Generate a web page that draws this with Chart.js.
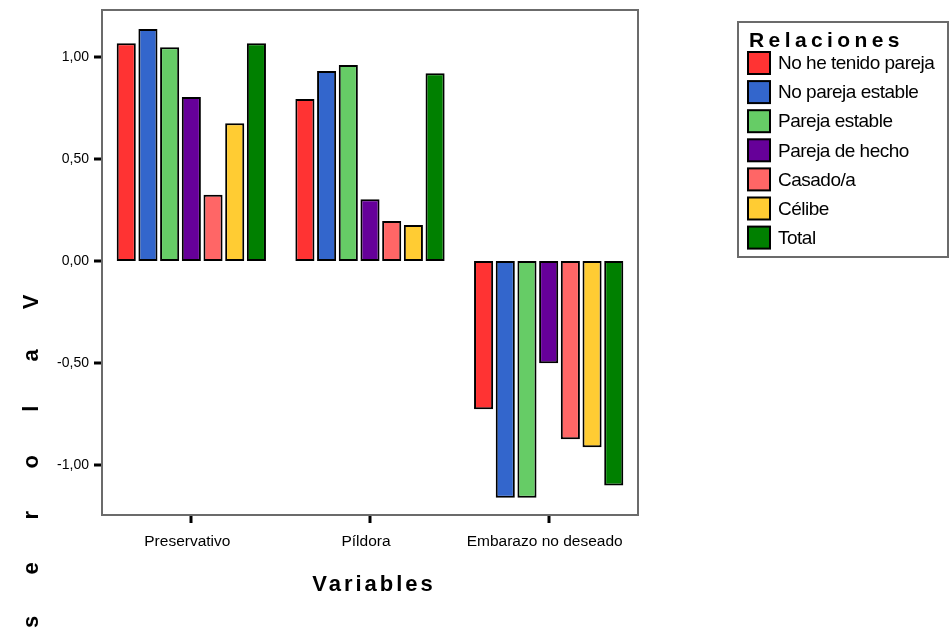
<!DOCTYPE html>
<html>
<head>
<meta charset="utf-8">
<script src="https://cdn.jsdelivr.net/npm/chart.js@4/dist/chart.umd.min.js"></script>
<style>
  body { margin: 0; background: #fff; }
  canvas { display: block; }
</style>
</head>
<body>
<canvas id="grafico" width="950" height="628"></canvas>
<script>
// Datos
const categorias = ["Preservativo", "Píldora", "Embarazo no deseado"];
const relaciones = ["No he tenido pareja", "No pareja estable", "Pareja estable", "Pareja de hecho", "Casado/a", "Célibe", "Total"];
const colores = ["#FF3333", "#3366CC", "#66CC66", "#660099", "#FF6666", "#FFCC33", "#008000"];

const noHeTenidoPareja = [1.067, 0.794, -0.727];
const noParejaEstable = [1.137, 0.931, -1.160];
const parejaEstable = [1.047, 0.961, -1.160];
const parejaDeHecho = [0.804, 0.302, -0.501];
const casado = [0.325, 0.196, -0.874];
const celibe = [0.675, 0.176, -0.913];
const total = [1.067, 0.920, -1.101];

const series = [noHeTenidoPareja, noParejaEstable, parejaEstable, parejaDeHecho, casado, celibe, total];
const yTicks = [-1, -0.5, 0, 0.5, 1];

const fuente = "'Liberation Sans', Arial, sans-serif";
Chart.defaults.font.family = fuente;
Chart.defaults.color = "#000";

// Marco, leyenda y titulos de ejes
const decoracion = {
    id: "decoracion",
    afterDatasetsDraw(chart) {
        const ctx = chart.ctx;
        const a = chart.chartArea;
        ctx.save();
        ctx.strokeStyle = "#6b6b6b";
        ctx.lineWidth = 2;
        ctx.strokeRect(a.left, a.top, a.right - a.left, a.bottom - a.top);
        ctx.restore();
    },
    afterDraw(chart) {
        const ctx = chart.ctx;
        ctx.save();

        // Leyenda
        ctx.strokeStyle = "#6b6b6b";
        ctx.lineWidth = 2;
        ctx.strokeRect(738, 22, 210, 235);
        ctx.fillStyle = "#000";
        ctx.font = "bold 21px " + fuente;
        ctx.letterSpacing = "4.4px";
        ctx.textBaseline = "alphabetic";
        ctx.fillText("Relaciones", 749, 47);

        ctx.font = "19px " + fuente;
        ctx.letterSpacing = "-0.5px";
        ctx.textBaseline = "middle";
        relaciones.forEach((nombre, i) => {
            const y = 52 + i * 29.1;
            ctx.fillStyle = colores[i];
            ctx.fillRect(748, y, 22, 22);
            ctx.strokeStyle = "#000";
            ctx.lineWidth = 2;
            ctx.strokeRect(748, y, 22, 22);
            ctx.fillStyle = "#000";
            ctx.fillText(nombre, 778, y + 12);
        });

        // Titulo eje X
        ctx.font = "bold 22px " + fuente;
        ctx.letterSpacing = "3px";
        ctx.textAlign = "center";
        ctx.textBaseline = "alphabetic";
        ctx.fillText("Variables", 374, 591);

        // Titulo eje Y, letra por letra
        ctx.letterSpacing = "0px";
        ctx.textBaseline = "middle";
        "Valores".split("").forEach((letra, i) => {
            ctx.save();
            ctx.translate(32, 302 + i * 53.3);
            ctx.rotate(-Math.PI / 2);
            ctx.fillText(letra, 0, 0);
            ctx.restore();
        });

        ctx.restore();
    }
};

new Chart(document.getElementById("grafico"), {
    type: "bar",
    data: {
        labels: categorias,
        datasets: relaciones.map((nombre, i) => ({
            label: nombre,
            data: series[i],
            backgroundColor: colores[i],
            borderColor: "#000",
            borderWidth: 2,
            borderSkipped: false,
            categoryPercentage: 0.85,
            barPercentage: 0.88,
        })),
    },
    options: {
        responsive: false,
        animation: false,
        layout: { padding: { top: 10, right: 312, left: 0, bottom: 0 } },
        plugins: {
            legend: { display: false },
            tooltip: { enabled: false },
        },
        scales: {
            x: {
                afterFit: (scale) => {
                    scale.height = 113;
                    scale.paddingLeft = 0;
                    scale.paddingRight = 0;
                },
                border: { display: false },
                grid: {
                    offset: false,
                    drawOnChartArea: false,
                    tickLength: 8,
                    lineWidth: 0,
                    tickWidth: 3,
                    tickColor: "#000",
                },
                ticks: { font: { size: 15.5 }, padding: 9, maxRotation: 0, labelOffset: -4 },
            },
            y: {
                min: -1.245,
                max: 1.23,
                afterFit: (scale) => {
                    scale.width = 102;
                    scale.paddingTop = 0;
                    scale.paddingBottom = 0;
                },
                afterBuildTicks: (scale) => { scale.ticks = yTicks.map((v) => ({ value: v })); },
                border: { display: false },
                grid: {
                    drawOnChartArea: false,
                    tickLength: 8,
                    lineWidth: 0,
                    tickWidth: 3,
                    tickColor: "#000",
                },
                ticks: {
                    font: { size: 14 },
                    padding: 5,
                    callback: (v) => v.toFixed(2).replace(".", ","),
                },
            },
        },
    },
    plugins: [decoracion],
});
</script>
</body>
</html>
